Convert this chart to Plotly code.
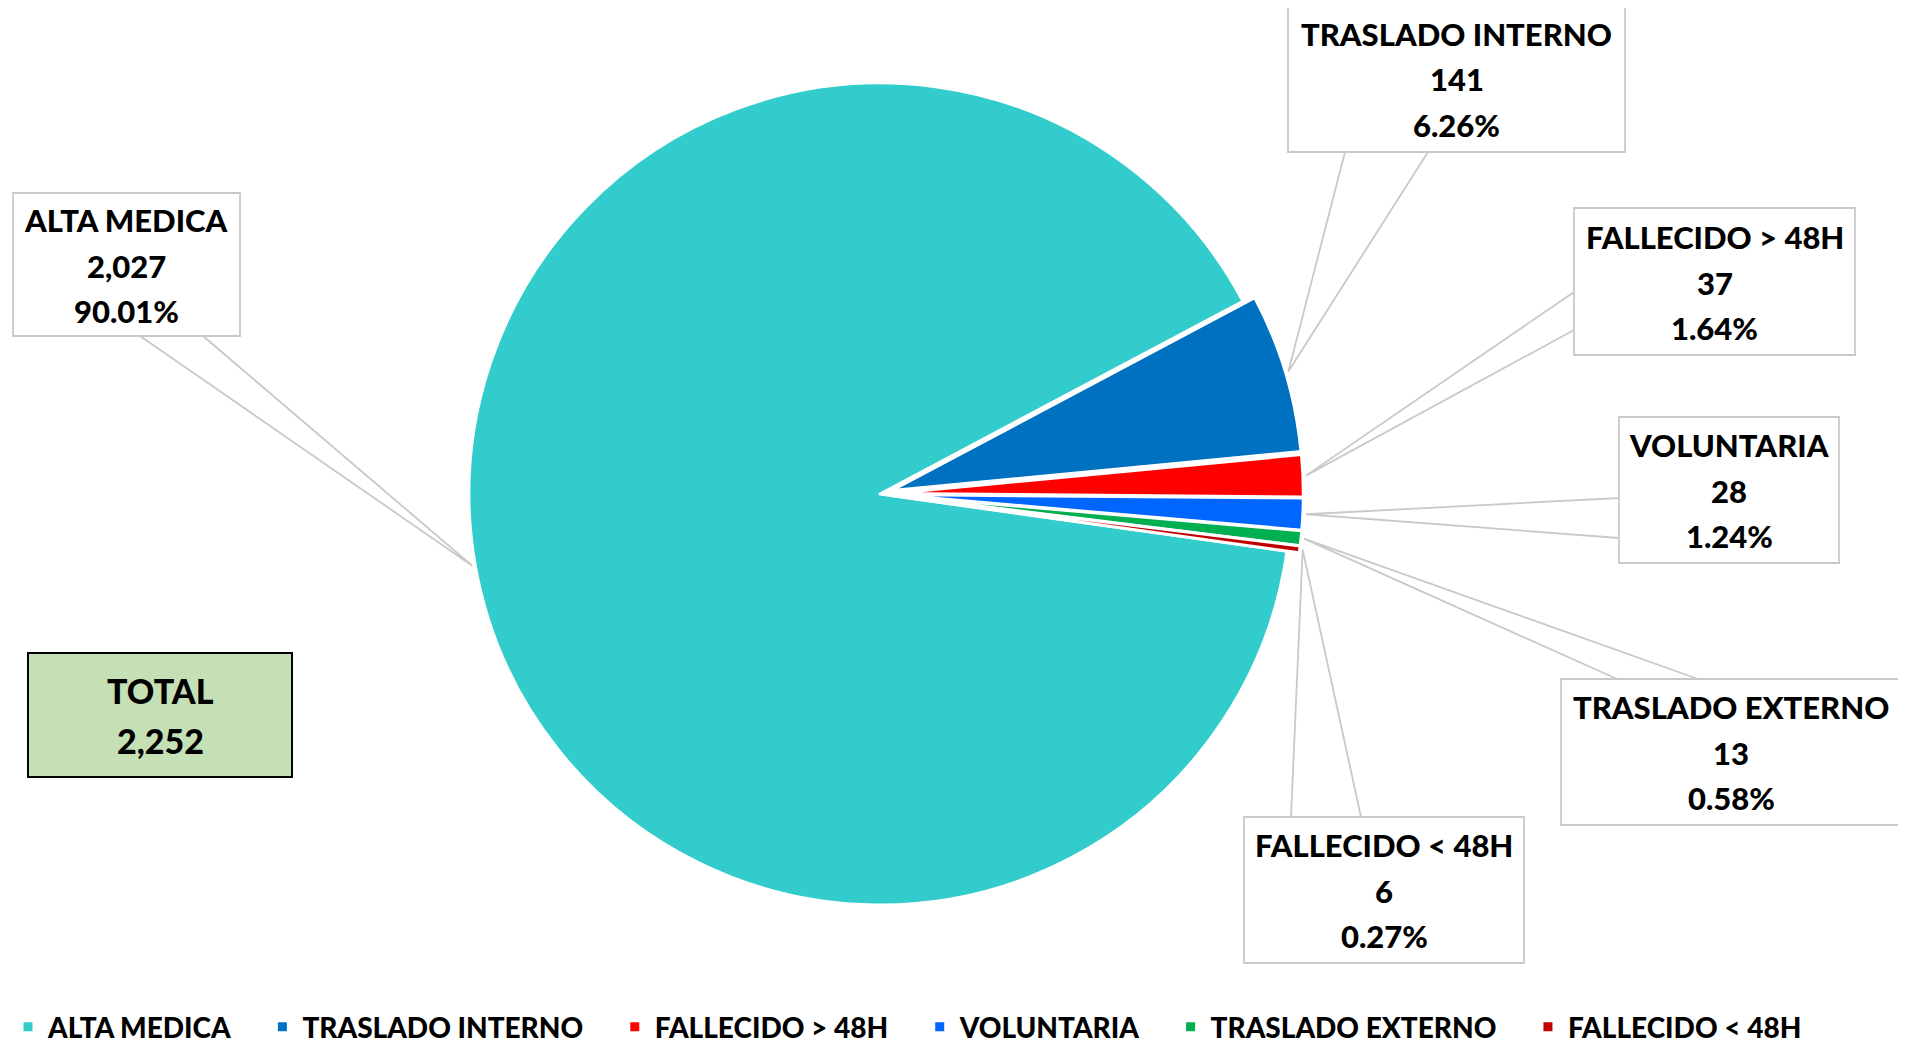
import math
import plotly.graph_objects as go

# ---- data ----
categories = ["ALTA MEDICA", "TRASLADO INTERNO", "FALLECIDO > 48H",
              "VOLUNTARIA", "TRASLADO EXTERNO", "FALLECIDO < 48H"]
values = [2027, 141, 37, 28, 13, 6]
colors = ["#33CCCC", "#0070C0", "#FF0000", "#0066FF", "#00B050", "#C00000"]
total_label = "TOTAL"

# ---- layout constants (page pixels) ----
FW, FH = 1906, 1044          # figure size
OFF = 8                      # page body margin offset
CX, CY, R = 880, 494, 411
ROT = 98
pulls = [0, 0.03, 0.03, 0.03, 0.03, 0.03]
maxpull = max(pulls)
half = R * (1 + maxpull)

def px(x):
    return (x - OFF) / FW

def py(y):
    return 1 - (y - OFF) / FH

FONT = "Lato"
WEIGHT = 900
GRAY = "#C9C9C9"
LEG_PAD = "\u00a0" * 4

total = sum(values)
legend_names = [c + LEG_PAD for c in categories]

fig = go.Figure()
fig.add_trace(go.Pie(
    labels=legend_names, values=values, sort=False, direction="clockwise",
    rotation=ROT, pull=pulls, textinfo="none", hoverinfo="label+value+percent",
    marker=dict(colors=colors, line=dict(color="white", width=3)),
    domain=dict(x=[px(CX - half), px(CX + half)], y=[py(CY + half), py(CY - half)]),
))

# callout boxes: (x0, y0, x1, y1, anchor1, anchor2)
boxes = [
    (13, 193, 240, 336, (140, 336), (203, 336)),
    (1288, 5, 1625, 152, (1345, 152), (1428, 152)),
    (1574, 208, 1855, 355, (1574, 292), (1574, 330)),
    (1619, 417, 1839, 563, (1619, 498), (1619, 538)),
    (1561, 679, 1901, 825, (1617, 679), (1698, 679)),
    (1244, 817, 1524, 963, (1291, 817), (1361, 817)),
]

shapes = []
annotations = []
cum = 0
for i, (cat, v) in enumerate(zip(categories, values)):
    mid = ROT + (cum + v / 2) / total * 360
    cum += v
    a = math.radians(mid)
    rt = R * (1 + pulls[i]) + 3
    tx = CX + rt * math.sin(a)
    ty = CY - rt * math.cos(a)
    x0, y0, x1, y1, a1, a2 = boxes[i]
    shapes.append(dict(
        type="path", xref="paper", yref="paper",
        path=f"M {px(a1[0])} {py(a1[1])} L {px(tx)} {py(ty)} L {px(a2[0])} {py(a2[1])}",
        line=dict(color=GRAY, width=1.8),
    ))
    shapes.append(dict(
        type="rect", xref="paper", yref="paper",
        x0=px(x0), x1=px(x1), y0=py(y1), y1=py(y0),
        line=dict(color=GRAY, width=1.8), fillcolor="white",
    ))
    yc = (y0 + y1) / 2
    lines = [cat, f"{v:,}", f"{v / total * 100:.2f}%"]
    for off, t in zip((-45, 1, 46), lines):
        annotations.append(dict(
            x=px((x0 + x1) / 2), y=py(yc + off), xref="paper", yref="paper",
            text=t, showarrow=False, xanchor="center", yanchor="middle",
            font=dict(family=FONT, size=31, color="black", weight=WEIGHT),
        ))

# TOTAL box
shapes.append(dict(
    type="rect", xref="paper", yref="paper",
    x0=px(28), x1=px(292), y0=py(777), y1=py(653),
    line=dict(color="black", width=2), fillcolor="#C5E0B4",
))
for yy, t in ((690, total_label), (740, f"{total:,}")):
    annotations.append(dict(
        x=px(160), y=py(yy), xref="paper", yref="paper", text=t,
        showarrow=False, xanchor="center", yanchor="middle",
        font=dict(family=FONT, size=34, color="black", weight=WEIGHT),
    ))

fig.update_layout(
    width=FW, height=FH, autosize=False,
    margin=dict(l=0, r=0, t=0, b=0, pad=0),
    paper_bgcolor="white", plot_bgcolor="white",
    shapes=shapes, annotations=annotations,
    showlegend=True,
    legend=dict(
        orientation="h", x=0, xanchor="left", y=0, yanchor="bottom",
        font=dict(family=FONT, size=28, color="black", weight=WEIGHT),
        itemwidth=30, traceorder="normal", borderwidth=0,
    ),
)

fig.write_html("out.html")
